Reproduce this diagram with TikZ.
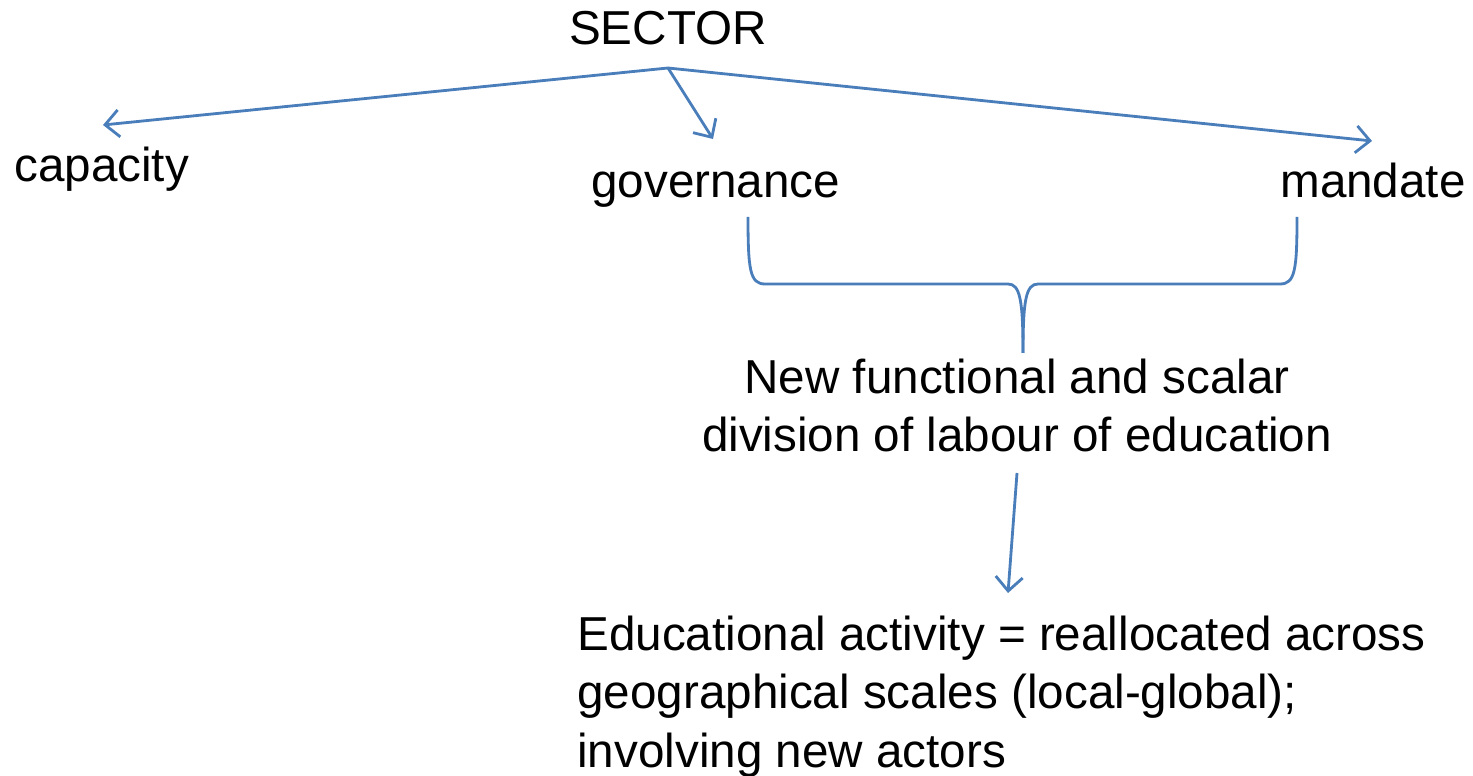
\documentclass[tikz,border=0pt]{standalone}
\usepackage{fontspec}
\setmainfont{Liberation Sans}
\usetikzlibrary{arrows.meta}
\definecolor{linkblue}{RGB}{74,126,187}
\tikzset{
  label text/.style={inner sep=0pt, text=black},
  link/.style={draw=linkblue, line width=1.6pt},
  link arrow/.style={link, -{Straight Barb[length=2.8mm,width=5.4mm]}}
}
\begin{document}
\begin{tikzpicture}[x=0.02cm, y=-0.02cm, font=\fontsize{27.1pt}{33.2pt}\selectfont]
    % Рамка рисунка
    \useasboundingbox (0,0) rectangle (1473,776);

    % Подписи
    \node[label text, anchor=base] (sector) at (668,45) {SECTOR};
    \node[label text, anchor=base west] (capacity) at (14,182) {capacity};
    \node[label text, anchor=base west] (governance) at (591,198) {governance};
    \node[label text, anchor=base west] (mandate) at (1280,198) {mandate};
    \node[label text, anchor=base, align=center] (division) at (1017,452)
        {New functional and scalar\\division of labour of education};
    \node[label text, anchor=base west, align=left] (activity) at (577,767)
        {Educational activity = reallocated across\\geographical scales (local-global);\\involving new actors};

    % Концы стрелок
    \coordinate (hub) at (668,68);
    \coordinate (capacity end) at (103,125);
    \coordinate (governance end) at (713,139);
    \coordinate (mandate end) at (1372,141);
    \coordinate (division start) at (1017,473);
    \coordinate (activity end) at (1008,593);

    % Стрелки от SECTOR
    \draw[link arrow] (hub) -- (capacity end);
    \draw[link arrow] (hub) -- (governance end);
    \draw[link arrow] (hub) -- (mandate end);

    % Фигурная скобка
    \coordinate (brace left) at (748,217);
    \coordinate (brace right) at (1297,217);
    \coordinate (brace tip) at (1023,353);
    \draw[link] (brace left) .. controls (748,270) and (750,284) .. (765,284)
        -- (1008,284) .. controls (1020,284) and (1023,300) .. (brace tip);
    \draw[link] (brace right) .. controls (1297,270) and (1295,284) .. (1280,284)
        -- (1038,284) .. controls (1026,284) and (1023,300) .. (brace tip);

    % Стрелка вниз
    \draw[link arrow] (division start) -- (activity end);
\end{tikzpicture}
\end{document}
